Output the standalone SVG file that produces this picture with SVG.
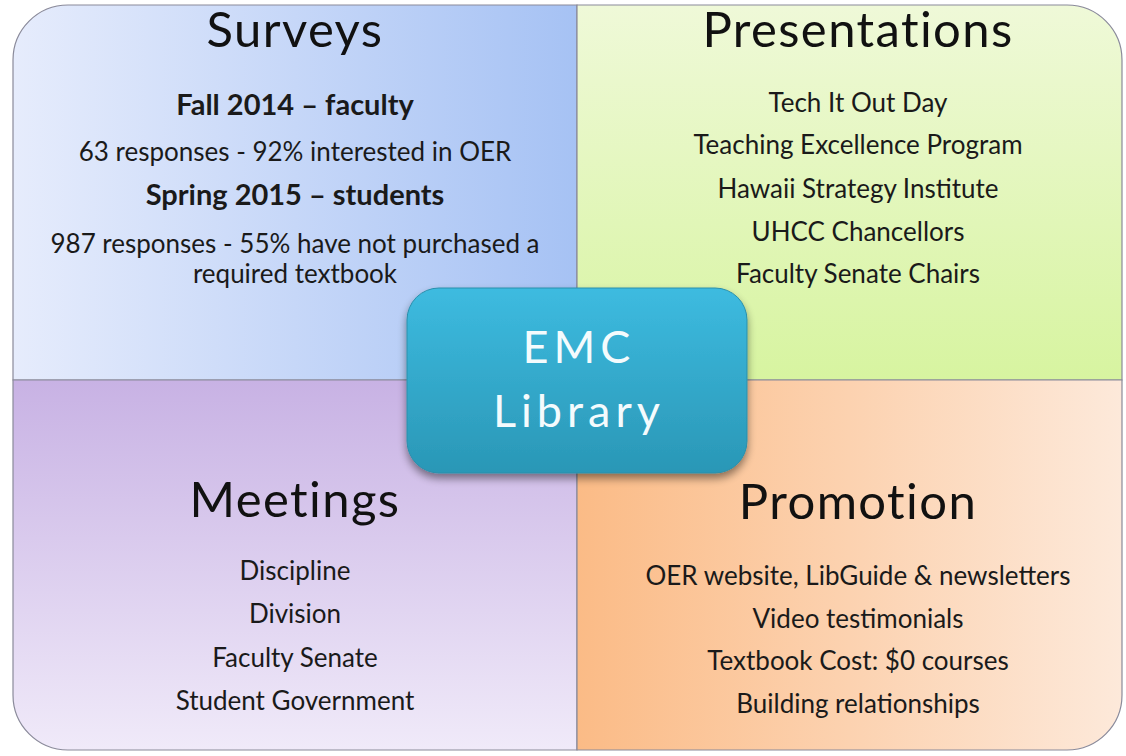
<svg xmlns="http://www.w3.org/2000/svg" width="1126" height="756" viewBox="0 0 1126 756">
<defs>
<linearGradient id="gBlue" x1="0" y1="0" x2="1" y2="0"><stop offset="0" stop-color="#e6ecfc"/><stop offset="1" stop-color="#a6c2f4"/></linearGradient>
<linearGradient id="gGreen" x1="0" y1="0" x2="0" y2="1"><stop offset="0" stop-color="#eff9d8"/><stop offset="1" stop-color="#d7f4a0"/></linearGradient>
<linearGradient id="gPurple" x1="0" y1="0" x2="0" y2="1"><stop offset="0" stop-color="#c8b2e4"/><stop offset="1" stop-color="#f0eaf9"/></linearGradient>
<linearGradient id="gOrange" x1="0" y1="0" x2="1" y2="0"><stop offset="0" stop-color="#fbbb86"/><stop offset="1" stop-color="#fde9da"/></linearGradient>
<linearGradient id="gCenter" x1="0" y1="0" x2="0" y2="1"><stop offset="0" stop-color="#3dbbe0"/><stop offset="1" stop-color="#2a97b6"/></linearGradient>
<filter id="shadow" x="-10%" y="-10%" width="125%" height="130%"><feGaussianBlur in="SourceAlpha" stdDeviation="4"/><feOffset dx="0" dy="5" result="b"/><feComponentTransfer><feFuncA type="linear" slope="0.45"/></feComponentTransfer><feMerge><feMergeNode/><feMergeNode in="SourceGraphic"/></feMerge></filter>
</defs>
<style>
.q{stroke:#8a8a9a;stroke-width:1.2}
.title{font-family:Lato,"Open Sans",sans-serif;font-size:49px;letter-spacing:1.4px;fill:#111;text-anchor:middle}
.t{font-family:Lato,"Open Sans",sans-serif;font-size:26px;fill:#1a1a1a;text-anchor:middle}
.b{font-weight:bold;font-size:29px}
.c{font-family:Lato,"Open Sans",sans-serif;font-size:45px;fill:#f4fbfd;text-anchor:middle;letter-spacing:5px}
</style>
<rect width="1126" height="756" fill="#ffffff"/>
<g id="surveys">
<path class="q" d="M13,60 A55,55 0 0 1 68,5 L577,5 L577,380 L13,380 Z" fill="url(#gBlue)"/>
<text class="title" x="295" y="47">Surveys</text>
<text class="t b" x="295" y="115">Fall 2014 – faculty</text>
<text class="t" x="295" y="161">63 responses - 92% interested in OER</text>
<text class="t b" x="295" y="205">Spring 2015 – students</text>
<text class="t" x="295" y="253">987 responses - 55% have not purchased a</text>
<text class="t" x="295" y="283">required textbook</text>
</g>
<g id="presentations">
<path class="q" d="M577,5 L1067,5 A55,55 0 0 1 1122,60 L1122,380 L577,380 Z" fill="url(#gGreen)"/>
<text class="title" x="858" y="47">Presentations</text>
<text class="t" x="858" y="112">Tech It Out Day</text>
<text class="t" x="858" y="154">Teaching Excellence Program</text>
<text class="t" x="858" y="198">Hawaii Strategy Institute</text>
<text class="t" x="858" y="241">UHCC Chancellors</text>
<text class="t" x="858" y="283">Faculty Senate Chairs</text>
</g>
<g id="meetings">
<path class="q" d="M13,380 L577,380 L577,750 L68,750 A55,55 0 0 1 13,695 Z" fill="url(#gPurple)"/>
<text class="title" x="295" y="517">Meetings</text>
<text class="t" x="295" y="580">Discipline</text>
<text class="t" x="295" y="623">Division</text>
<text class="t" x="295" y="667">Faculty Senate</text>
<text class="t" x="295" y="710">Student Government</text>
</g>
<g id="promotion">
<path class="q" d="M577,380 L1122,380 L1122,695 A55,55 0 0 1 1067,750 L577,750 Z" fill="url(#gOrange)"/>
<text class="title" x="858" y="519">Promotion</text>
<text class="t" x="858" y="585">OER website, LibGuide &amp; newsletters</text>
<text class="t" x="858" y="628">Video testimonials</text>
<text class="t" x="858" y="670">Textbook Cost: $0 courses</text>
<text class="t" x="858" y="713">Building relationships</text>
</g>
<g id="connectors"></g>
<g id="center">
<rect x="407" y="288" width="340" height="185" rx="32" fill="url(#gCenter)" stroke="#2a8fab" stroke-width="1" filter="url(#shadow)"/>
<text class="c" x="579" y="363">EMC</text>
<text class="c" x="579" y="427">Library</text>
</g>
</svg>
